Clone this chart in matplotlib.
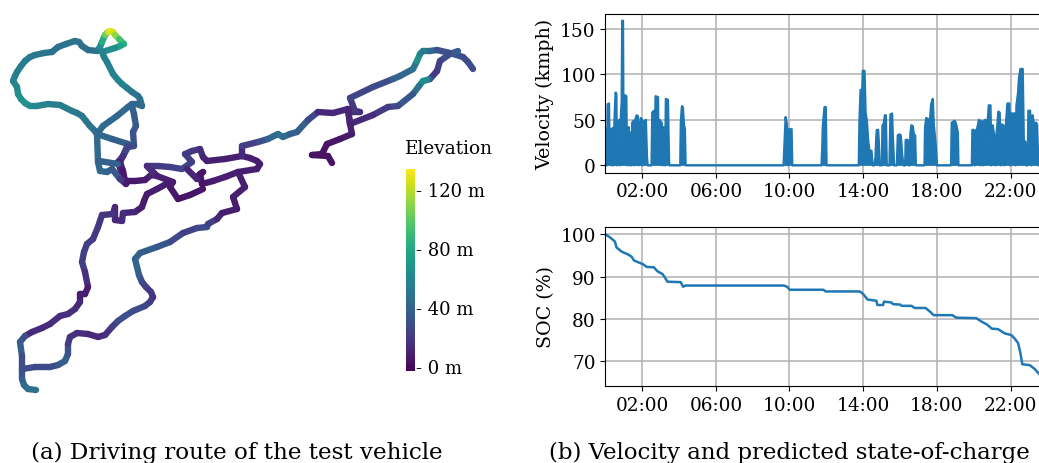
import numpy as np
import matplotlib
matplotlib.use('Agg')
import matplotlib.pyplot as plt
from matplotlib.collections import LineCollection
from matplotlib.cm import ScalarMappable
from matplotlib.colors import Normalize

plt.rcParams['font.family'] = 'DejaVu Serif'

# Route sections: map x, map y (image-like units), elevation in metres
top_loop_x = [97, 94, 90, 86, 82, 77, 72, 60, 48, 42, 37, 30, 25, 21, 18, 17, 13, 15, 17, 21, 25, 30, 35, 44, 52, 58, 66, 75, 79, 82, 88, 97, 100, 102, 105, 108, 110, 113, 115, 119, 124, 120, 115, 102, 104, 107, 113, 118, 122, 127, 132, 138, 140, 142, 137, 132, 128, 117, 110, 103, 97]
top_loop_y = [135, 131, 127, 122, 117, 114, 112, 106, 105, 106, 107, 107, 104, 100, 95, 88, 82, 77, 73, 67, 62, 58, 56, 54, 53, 48, 45, 42, 43, 47, 51, 52, 48, 43, 36, 33, 32, 33, 36, 40, 45, 47, 49, 53, 58, 63, 75, 81, 85, 89, 93, 97, 100, 107, 105, 105, 108, 117, 122, 127, 135]
top_loop_e = [44, 46, 48, 49, 50, 52, 52, 54, 56, 57, 58, 62, 66, 66, 65, 62, 58, 57, 55, 55, 54, 53, 52, 50, 48, 47, 48, 50, 48, 46, 46, 46, 56, 70, 92, 115, 130, 128, 120, 100, 85, 78, 70, 56, 56, 56, 58, 58, 58, 56, 52, 50, 48, 44, 42, 42, 42, 42, 42, 43, 44]

link_a_x = [97, 112, 128, 123, 118, 122, 125, 128, 135, 145, 151, 157, 147, 158, 170, 182, 192, 185, 192, 200, 203, 207, 225, 242, 250, 257, 260, 257, 238, 225, 213, 202, 200, 203, 198, 197, 187]
link_a_y = [135, 140, 145, 157, 163, 175, 182, 182, 182, 181, 176, 177, 167, 167, 168, 170, 163, 155, 152, 150, 158, 162, 160, 157, 159, 162, 165, 170, 173, 178, 182, 185, 175, 173, 177, 180, 170]
link_a_e = [44, 40, 36, 28, 15, 6, 3, 3, 5, 6, 8, 10, 18, 20, 20, 26, 24, 20, 19, 18, 12, 8, 8, 8, 8, 8, 8, 8, 8, 8, 8, 4, 3, 3, 4, 4, 18]

link_b_x = [132, 134, 136, 133, 134, 128, 123, 120, 123, 125]
link_b_y = [107, 115, 127, 133, 147, 148, 157, 163, 172, 182]
link_b_e = [42, 38, 36, 32, 30, 28, 20, 12, 6, 3]

link_c_x = [97, 98, 100, 107, 112, 120, 126, 128]
link_c_y = [135, 163, 172, 173, 170, 180, 185, 182]
link_c_e = [44, 42, 42, 40, 38, 30, 8, 3]

link_d_x = [99, 118]
link_d_y = [162, 165]
link_d_e = [42, 35]

loop_cross_x = [147, 157, 173, 170, 178, 190, 203]
loop_cross_y = [167, 177, 183, 188, 200, 196, 190]
loop_cross_e = [18, 10, 8, 8, 3, 4, 4]

east_x = [242, 242, 258, 268, 278, 283, 290, 297, 308, 318, 333, 348, 353, 360, 355, 350, 373, 393, 400, 413, 417, 420, 423, 430, 437, 450, 463, 468, 473]
east_y = [157, 147, 143, 140, 135, 138, 135, 133, 121, 113, 114, 110, 113, 113, 112, 99, 88, 80, 77, 70, 62, 55, 52, 52, 51, 54, 58, 63, 70]
east_e = [8, 18, 25, 34, 48, 48, 40, 36, 40, 12, 12, 12, 12, 14, 14, 22, 26, 30, 48, 35, 65, 65, 50, 55, 30, 30, 28, 28, 28]

back_x = [458, 450, 440, 437, 430, 427, 423, 419, 413, 398, 388, 373, 350, 348, 350, 352, 340, 327, 322, 312, 328, 332]
back_y = [52, 55, 62, 72, 80, 81, 82, 87, 95, 107, 108, 116, 125, 110, 125, 135, 140, 145, 155, 156, 157, 164]
back_e = [40, 34, 24, 22, 16, 60, 66, 60, 38, 28, 24, 16, 10, 12, 10, 8, 5, 4, 3, 3, 3, 2]

west_x = [170, 157, 147, 144, 142, 135, 123, 122, 115, 115, 113, 102, 100, 98, 93, 87, 84, 82, 85, 88, 85, 80, 80, 75, 68, 60, 50, 42, 32, 25, 20, 22, 22, 22, 24, 28, 36]
west_y = [183, 190, 195, 202, 208, 213, 214, 222, 221, 208, 215, 216, 222, 228, 240, 245, 253, 263, 273, 288, 295, 295, 303, 310, 315, 317, 325, 329, 333, 337, 343, 357, 370, 380, 386, 390, 391]
west_e = [6, 8, 6, 6, 6, 8, 14, 14, 14, 10, 15, 18, 18, 18, 20, 22, 22, 22, 20, 10, 5, 5, 10, 14, 15, 16, 14, 13, 12, 14, 45, 28, 30, 34, 40, 46, 48]

return_x = [22, 35, 50, 58, 65, 68, 68, 70, 77, 88, 98, 105, 112, 118, 125, 133, 145, 150, 153, 151, 146, 142, 139, 137, 135, 140, 157, 170, 183, 197, 207, 208, 217, 222, 237, 233, 245, 238]
return_y = [370, 368, 368, 366, 362, 355, 345, 338, 334, 335, 338, 336, 328, 322, 317, 312, 307, 303, 298, 293, 288, 283, 276, 268, 260, 254, 248, 243, 234, 229, 228, 225, 220, 214, 210, 198, 188, 173]
return_e = [30, 28, 24, 30, 40, 36, 24, 18, 16, 14, 12, 14, 18, 28, 30, 30, 26, 24, 16, 18, 20, 24, 32, 44, 40, 36, 36, 30, 22, 24, 30, 30, 14, 10, 6, 8, 8, 8]

route_x = [top_loop_x, link_a_x, link_b_x, link_c_x, link_d_x, loop_cross_x, east_x, back_x, west_x, return_x]
route_y = [top_loop_y, link_a_y, link_b_y, link_c_y, link_d_y, loop_cross_y, east_y, back_y, west_y, return_y]
route_e = [top_loop_e, link_a_e, link_b_e, link_c_e, link_d_e, loop_cross_e, east_e, back_e, west_e, return_e]

elev_ticks = [0, 40, 80, 120]
elev_labels = ['- 0 m', '- 40 m', '- 80 m', '- 120 m']

# Velocity in kmph against hour of the day
v_hours = [0, 0.04, 0.09, 0.13, 0.20, 0.24, 0.27, 0.34, 0.40, 0.45, 0.49, 0.52, 0.56, 0.60, 0.63, 0.69, 0.76, 0.81, 0.85, 0.89, 0.92, 0.96, 0.99, 1.05, 1.08, 1.14, 1.18, 1.21, 1.27, 1.30, 1.36, 1.41, 1.46, 1.54, 1.57, 1.63, 1.70, 1.77, 1.81, 1.86, 1.93, 1.99, 2.03, 2.08, 2.15, 2.20, 2.26, 2.30,
           2.51, 2.55, 2.64, 2.68, 2.73, 2.86, 2.89, 2.95, 3.00, 3.06, 3.11, 3.16, 3.22, 3.25, 3.29, 3.40, 3.44, 3.47,
           4.07, 4.10, 4.16, 4.21, 4.27, 4.32, 4.36,
           9.68, 9.73, 9.79, 9.86, 9.91, 9.97, 10.04, 10.11, 10.15,
           11.74, 11.78, 11.81, 11.90, 11.97, 12.01,
           13.76, 13.80, 13.86, 13.95, 13.98, 14.07, 14.13, 14.20, 14.27, 14.34, 14.45, 14.51,
           14.61, 14.67, 14.71, 14.74, 14.81, 14.85, 14.89,
           15.01, 15.05, 15.12, 15.18, 15.23, 15.28,
           15.43, 15.48, 15.57, 15.61, 15.68,
           15.83, 15.88, 15.97, 16.04, 16.12, 16.19,
           16.28, 16.31, 16.42, 16.46,
           16.51, 16.57, 16.62, 16.69, 16.75, 16.82, 16.86,
           17.33, 17.36, 17.42, 17.51, 17.58, 17.63, 17.69, 17.78, 17.83, 17.92, 18.01,
           18.77, 18.81, 18.90, 18.97, 19.05, 19.14, 19.17,
           19.90, 19.93, 20.00, 20.06, 20.11, 20.18, 20.24, 20.29, 20.35, 20.40, 20.46, 20.51, 20.56, 20.64, 20.69, 20.75, 20.82, 20.91, 20.96, 21.03, 21.12, 21.18, 21.23, 21.29, 21.34, 21.41, 21.47, 21.52, 21.61, 21.67, 21.72, 21.83, 21.94, 21.99, 22.03, 22.23, 22.28, 22.32, 22.41, 22.46, 22.54, 22.66, 22.72, 22.81, 22.86, 22.93, 22.97, 23.06, 23.13, 23.19, 23.26, 23.31, 23.39, 23.44, 23.51, 23.6]
v_kmph = [0, 40, 0, 67, 68, 5, 40, 0, 41, 0, 42, 60, 80, 78, 0, 45, 50, 0, 55, 70, 159, 159, 20, 60, 77, 76, 0, 40, 42, 0, 36, 0, 47, 49, 0, 50, 55, 54, 0, 40, 52, 50, 0, 48, 49, 50, 10, 0,
          0, 58, 60, 5, 76, 75, 10, 50, 48, 47, 0, 42, 40, 0, 73, 72, 25, 0,
          0, 47, 65, 64, 45, 40, 0,
          0, 25, 53, 45, 0, 40, 39, 40, 0,
          0, 20, 43, 64, 64, 0,
          0, 49, 83, 83, 104, 104, 58, 49, 27, 16, 16, 0,
          0, 9, 29, 39, 39, 25, 0,
          0, 44, 46, 55, 55, 0,
          0, 56, 57, 31, 0,
          0, 33, 34, 33, 11, 0,
          0, 28, 28, 0,
          0, 36, 44, 43, 34, 33, 0,
          0, 41, 52, 51, 45, 50, 67, 73, 45, 27, 0,
          0, 47, 48, 49, 45, 36, 0,
          0, 39, 39, 0, 38, 40, 45, 50, 0, 49, 47, 0, 49, 50, 40, 45, 66, 66, 0, 44, 31, 0, 33, 45, 59, 58, 0, 45, 44, 0, 36, 68, 68, 0, 57, 57, 0, 65, 80, 96, 106, 106, 27, 26, 0, 0, 60, 60, 0, 55, 47, 45, 47, 45, 0, 0]

# Predicted state of charge in percent
soc_hours = [0, 0.25, 0.52, 0.61, 0.89, 1.25, 1.43, 1.56, 1.79, 2.06, 2.24, 2.64, 2.82, 3.11, 3.38, 4.09, 4.23, 4.34, 9.69, 9.87, 10.02, 11.83, 11.97, 13.82, 14.0, 14.23, 14.72, 14.77, 15.08, 15.13, 15.53, 15.62, 16.02, 16.08, 16.62, 16.8, 17.38, 17.61, 17.83, 18.84, 19.06, 20.14, 20.42, 20.72, 20.99, 21.32, 21.68, 22.04, 22.22, 22.41, 22.53, 22.64, 23.04, 23.31, 23.6]
soc_pct = [100, 99.3, 98.3, 96.9, 95.9, 95.2, 94.7, 93.8, 93.4, 92.9, 92.3, 92.2, 91.3, 90.6, 88.8, 88.7, 87.6, 87.9, 87.9, 87.6, 86.9, 86.9, 86.5, 86.5, 85.9, 84.6, 84.3, 83.3, 83.3, 84.1, 83.9, 83.5, 83.4, 83.1, 83.1, 82.6, 82.6, 81.8, 80.9, 80.9, 80.3, 80.2, 79.4, 78.7, 77.7, 77.6, 76.6, 76.2, 75.4, 74.3, 72.1, 69.3, 69.1, 68.2, 66.8]

hour_ticks = [2, 6, 10, 14, 18, 22]
hour_labels = ['02:00', '06:00', '10:00', '14:00', '18:00', '22:00']

W, H = 1039, 464
fig = plt.figure(figsize=(W / 100, H / 100), dpi=100)


def px_axes(left, top, right, bottom):
    return fig.add_axes([left / W, 1 - bottom / H, (right - left) / W, (bottom - top) / H])


# Route map
norm = Normalize(-3.6, 133.5)
ax_map = px_axes(0, 0, 500, 464)
for xs, ys, es in zip(route_x, route_y, route_e):
    pts = np.column_stack([xs, ys])
    segs = np.stack([pts[:-1], pts[1:]], axis=1)
    es = np.array(es, dtype=float)
    lc = LineCollection(segs, cmap='viridis', norm=norm, linewidths=4.6, capstyle='round', joinstyle='round')
    lc.set_array((es[:-1] + es[1:]) / 2)
    ax_map.add_collection(lc)
ax_map.set_xlim(0, 500)
ax_map.set_ylim(464, 0)
ax_map.axis('off')

cax = px_axes(406, 170, 415, 372.3)
cb = fig.colorbar(ScalarMappable(norm=norm, cmap='viridis'), cax=cax)
cb.outline.set_visible(False)
cb.set_ticks(elev_ticks)
cb.set_ticklabels(elev_labels)
cax.tick_params(length=0, pad=1, labelsize=13)
fig.text(405 / W, 1 - 149.5 / H, 'Elevation', fontsize=13.3, ha='left', va='center')

# Velocity and SOC
ax_v = px_axes(605.3, 14.7, 1040, 173.7)
ax_v.plot(v_hours, v_kmph, color='tab:blue', lw=1.7)
ax_v.fill_between(v_hours, 0, v_kmph, color='tab:blue', lw=0)
ax_v.set_ylim(-8.1, 166.8)
ax_v.set_yticks([0, 50, 100, 150])
ax_v.set_ylabel('Velocity (kmph)', fontsize=13.7, labelpad=4)

ax_s = px_axes(605.3, 227.5, 1040, 387)
ax_s.plot(soc_hours, soc_pct, color='tab:blue', lw=1.8)
ax_s.set_ylim(64.17, 101.84)
ax_s.set_yticks([70, 80, 90, 100])
ax_s.set_ylabel('SOC (%)', fontsize=13.7, labelpad=4)

for ax in (ax_v, ax_s):
    ax.set_xlim(0, 23.6)
    ax.set_xticks(hour_ticks)
    ax.set_xticklabels(hour_labels)
    ax.tick_params(labelsize=13.3)
    ax.grid(True, color='#b0b0b0', lw=1.1)
    ax.set_axisbelow(True)

fig.text(236.5 / W, 1 - 453 / H, '(a) Driving route of the test vehicle', fontsize=16.6, ha='center', va='center')
fig.text(789 / W, 1 - 453 / H, '(b) Velocity and predicted state-of-charge', fontsize=16.5, ha='center', va='center')

fig.savefig('out.png', dpi=100)
